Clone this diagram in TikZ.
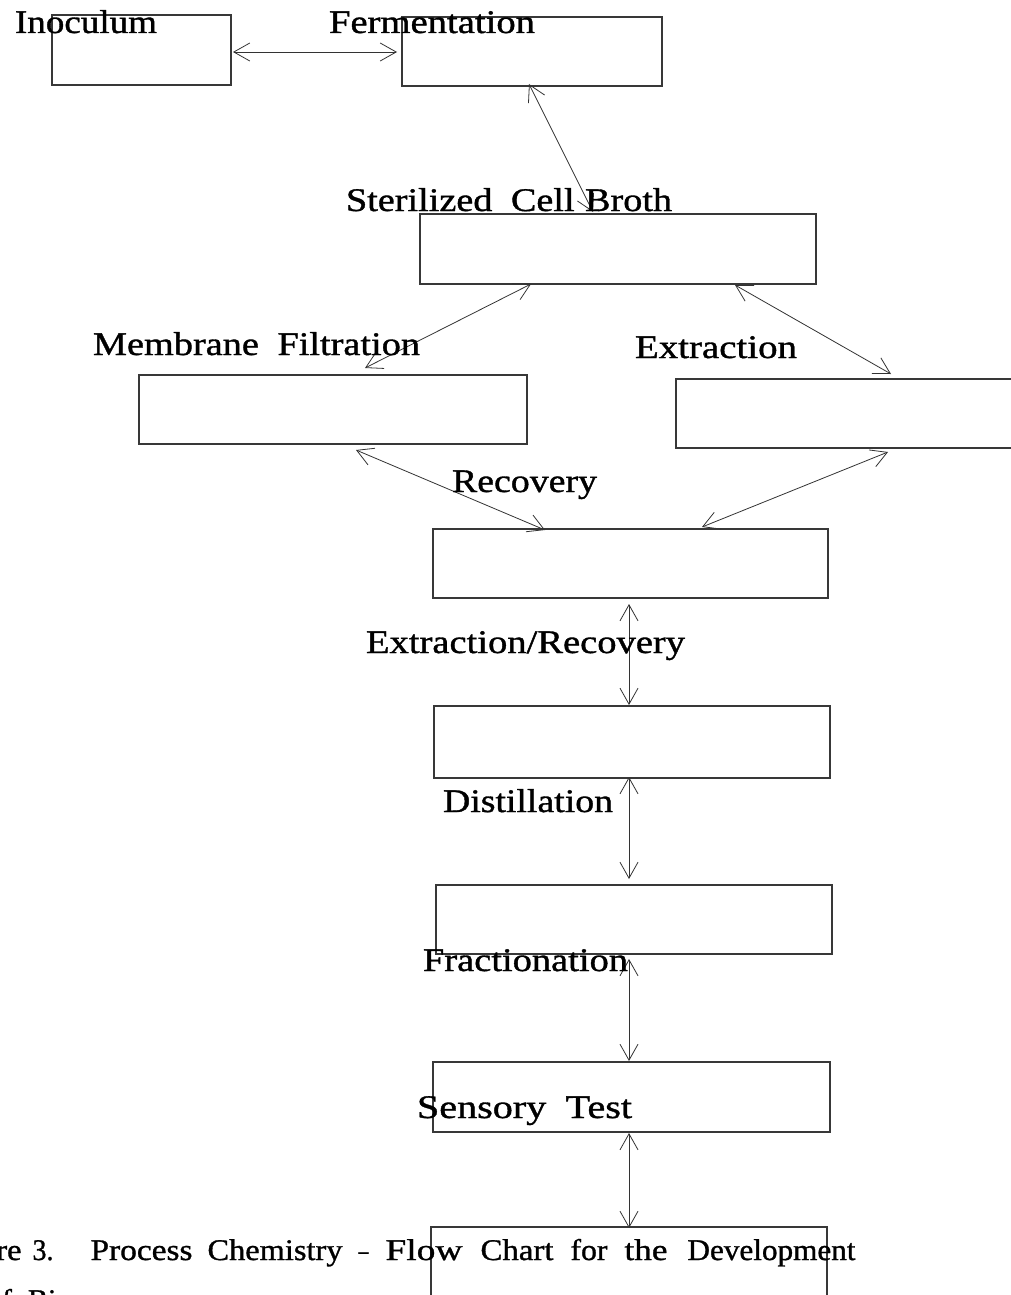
\documentclass[tikz,border=0pt]{standalone}
\usepackage{fontspec}
\setmainfont{Liberation Serif}
\newfontfamily\lblfont[FakeBold=1.0]{Liberation Serif}
\usetikzlibrary{arrows.meta,calc}
\newcommand{\fitw}[2]{\resizebox{#1}{\height}{#2}}
\newcommand{\gap}{\hspace{16pt}}
\newcommand{\wat}[3]{\makebox[0pt][l]{\hspace{#1}\fitw{#2}{#3}}}
\tikzset{
  box/.style={draw=black!78, line width=1.1pt, inner sep=0pt, outer sep=0pt, rectangle},
  arr/.style={draw=black!80, line width=0.8pt,
    {Straight Barb[length=16pt,width=18pt]}-{Straight Barb[length=16pt,width=18pt]}},
  lbl/.style={inner sep=0pt, outer sep=0pt, anchor=base west, font=\lblfont\fontsize{33}{36}\selectfont},
  captext/.style={inner sep=0pt, outer sep=0pt, font=\lblfont\fontsize{30}{34}\selectfont}
}
\begin{document}
\begin{tikzpicture}[x=1pt,y=-1pt]
\useasboundingbox (0,0) rectangle (1011,1295);
\clip (0,0) rectangle (1011,1295);
\fill[white] (0,0) rectangle (1011,1295);
% boxes
\node[box, minimum width=179pt, minimum height=70pt] (A) at (141.5,50) {};
\node[box, minimum width=260pt, minimum height=69pt] (B) at (532,51.5) {};
\node[box, minimum width=396pt, minimum height=70pt] (C) at (618,249) {};
\node[box, minimum width=388pt, minimum height=69pt] (D) at (333,409.5) {};
\node[box, minimum width=404pt, minimum height=69pt] (E) at (878,413.5) {};
\node[box, minimum width=395pt, minimum height=69pt] (F) at (630.5,563.5) {};
\node[box, minimum width=396pt, minimum height=72pt] (G) at (632,742) {};
\node[box, minimum width=396pt, minimum height=69pt] (H) at (634,919.5) {};
\node[box, minimum width=397pt, minimum height=70pt] (I) at (631.5,1097) {};
\node[box, minimum width=396pt, minimum height=113pt] (K) at (629,1283.5) {};
% connectors
\draw[arr] ($(A.east)+(2,2)$) -- ($(B.west)+(-5,0.5)$);
\draw[arr] ($(B.south)+(-3,-2)$) -- ($(C.north)+(-25,-2)$);
\draw[arr] ($(C.south)+(-87,0)$) -- ($(D.north)+(32,-7)$);
\draw[arr] ($(C.south)+(117,1)$) -- ($(E.north)+(13,-5)$);
\draw[arr] ($(D.south)+(23,6)$) -- ($(F.north)+(-85.5,1)$);
\draw[arr] ($(E.south)+(10,4)$) -- ($(F.north)+(71.5,-2)$);
\draw[arr] ($(F.south)+(-1.5,6)$) -- ($(G.north)+(-3,-1)$);
\draw[arr] ($(G.south)+(-3,-1)$) -- ($(H.north)+(-5,-6)$);
\draw[arr] ($(H.south)+(-5,5)$) -- ($(I.north)+(-2.5,-1)$);
\draw[arr] ($(I.south)+(-2.5,1)$) -- ($(K.north)+(0,1)$);
% labels
\node[lbl] (lA) at (15,33) {\fitw{142pt}{Inoculum}};
\node[lbl] (lB) at (329,33) {\fitw{206pt}{Fermentation}};
\node[lbl] (lC) at (346,211) {\fitw{326pt}{Sterilized\gap Cell\hspace{9pt}Broth}};
\node[lbl] (lD) at (93,355) {\fitw{327pt}{Membrane\gap Filtration}};
\node[lbl] (lE) at (635,358) {\fitw{162pt}{Extraction}};
\node[lbl] (lF) at (452,492) {\fitw{145pt}{Recovery}};
\node[lbl] (lG) at (366,653) {\fitw{319pt}{Extraction/Recovery}};
\node[lbl] (lH) at (443,812) {\fitw{170pt}{Distillation}};
\node[lbl] (lI) at (423,971) {\fitw{205pt}{Fractionation}};
\node[lbl] (lK) at (417,1118) {\fitw{215pt}{Sensory\gap Test}};
% caption
\node[captext, anchor=base west] (cap1) at (0,1260)
  {\wat{-63.6pt}{84.6pt}{Figure}\wat{32pt}{21pt}{3.}\wat{90pt}{102pt}{Process}%
   \wat{207pt}{135pt}{Chemistry}\wat{358pt}{10pt}{–}\wat{385pt}{77pt}{Flow}%
   \wat{480pt}{73pt}{Chart}\wat{570pt}{37pt}{for}\wat{624pt}{43pt}{the}%
   \wat{687pt}{168pt}{Development}};
\node[captext, anchor=base west] (cap2) at (-13,1310) {of\gap Bioprocess};
\end{tikzpicture}
\end{document}
